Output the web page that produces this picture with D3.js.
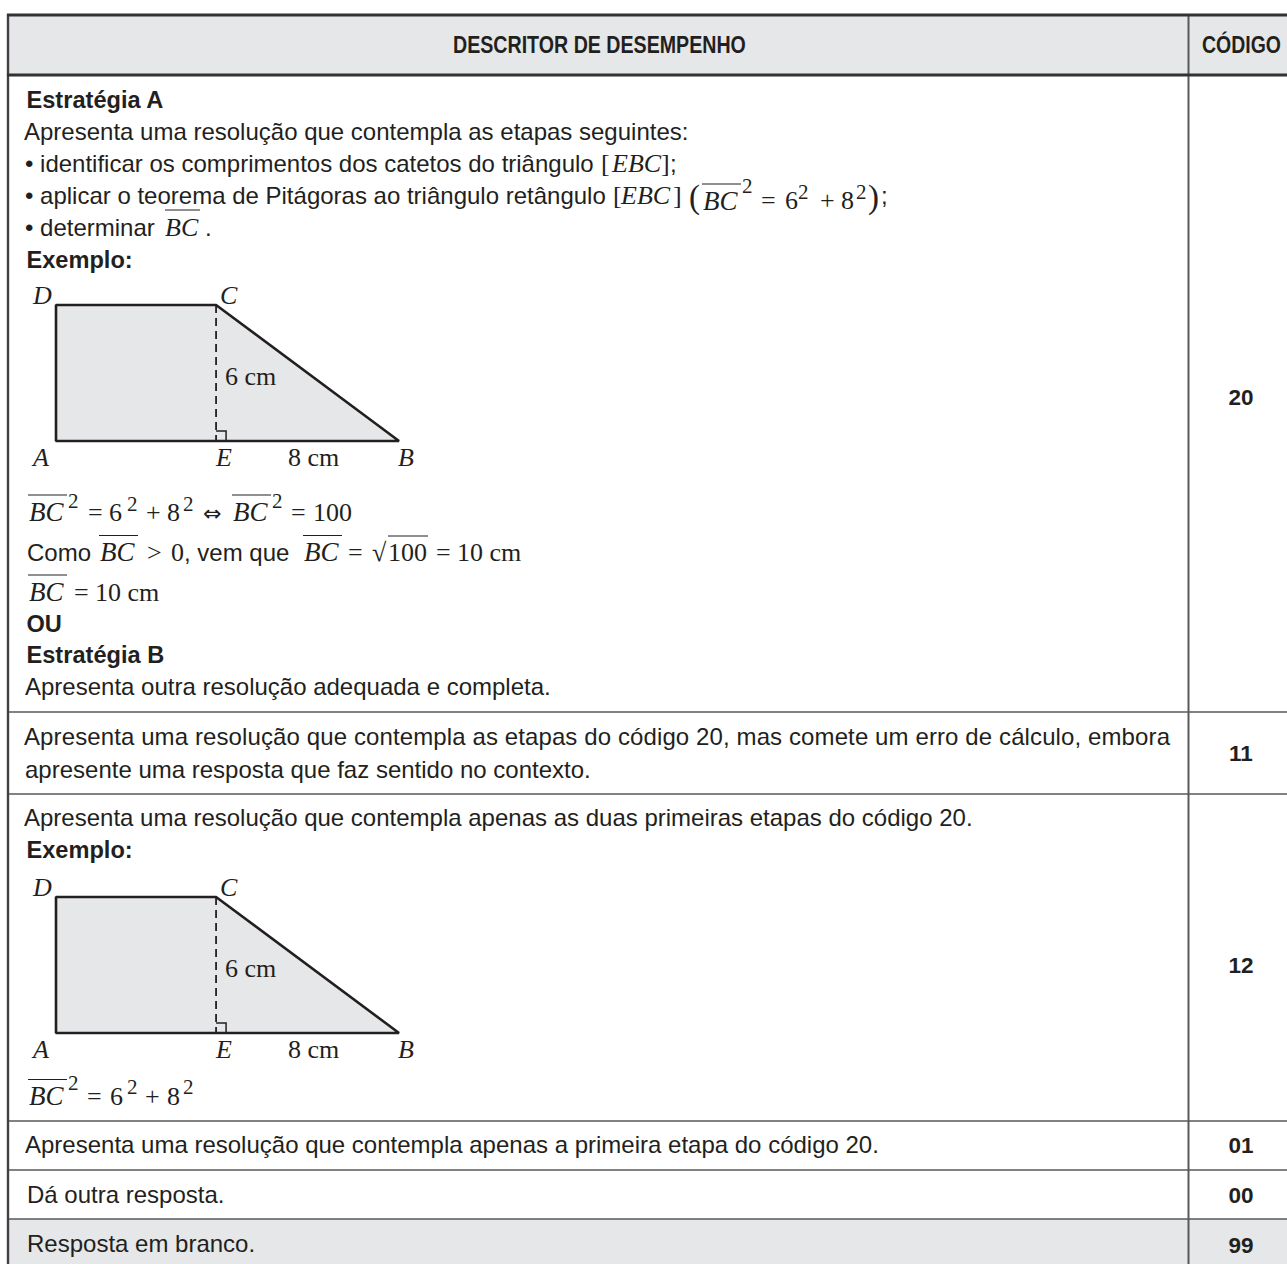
<!DOCTYPE html>
<html>
<head>
<meta charset="utf-8">
<title>Descritor de desempenho</title>
<script src="https://d3js.org/d3.v7.min.js"></script>
<style>
html, body { margin: 0; padding: 0; background: #fff; }
svg { display: block; }
text { fill: #231f20; white-space: pre; }
.sans { font-family: "Liberation Sans", Arial, sans-serif; font-size: 24px; }
.bold { font-family: "Liberation Sans", Arial, sans-serif; font-size: 23.6px; font-weight: 700; }
.code { font-family: "Liberation Sans", Arial, sans-serif; font-size: 22.5px; font-weight: 700; }
.head { font-family: "Liberation Sans", Arial, sans-serif; font-size: 23.5px; font-weight: 700; }
.serif { font-family: "Liberation Serif", "Times New Roman", serif; font-size: 26px; }
.ital { font-family: "Liberation Serif", "Times New Roman", serif; font-size: 26px; font-style: italic; }
.sup { font-family: "Liberation Serif", "Times New Roman", serif; font-size: 21px; }
.arrow { font-family: "DejaVu Sans", sans-serif; font-size: 22px; }
</style>
</head>
<body>
<svg id="chart" width="1287" height="1264"></svg>
<script>

var headers = ["DESCRITOR DE DESEMPENHO", "CÓDIGO"];
var codes = ["20", "11", "12", "01", "00", "99"];

// lados do trapézio, em cm
var sideAE = [7];
var sideEB = [8];
var sideCE = [6];

var rowText = {
  intro: "Apresenta uma resolução que contempla as etapas seguintes:",
  outra: "Apresenta outra resolução adequada e completa.",
  erro1: "Apresenta uma resolução que contempla as etapas do código 20, mas comete um erro de cálculo, embora",
  erro2: "apresente uma resposta que faz sentido no contexto.",
  duas: "Apresenta uma resolução que contempla apenas as duas primeiras etapas do código 20.",
  primeira: "Apresenta uma resolução que contempla apenas a primeira etapa do código 20.",
  outraResp: "Dá outra resposta.",
  branco: "Resposta em branco."
};

var svg = d3.select("#chart");
var ink = "#231f20", rule = "#58595b", shade = "#e6e7e8";

var left = 8, divider = 1188.5, right = 1287;
var rowTops = [15, 75, 712, 794, 1121, 1170, 1219, 1264];

// fundos
svg.append("rect").attr("x", left).attr("y", rowTops[0]).attr("width", right - left).attr("height", rowTops[1] - rowTops[0]).attr("fill", shade);
svg.append("rect").attr("x", left).attr("y", rowTops[6]).attr("width", right - left).attr("height", rowTops[7] - rowTops[6]).attr("fill", shade);

// linhas da tabela
rowTops.slice(2, 7).forEach(function(y) {
  svg.append("line").attr("x1", left).attr("x2", right).attr("y1", y).attr("y2", y)
    .attr("stroke", rule).attr("stroke-width", 1.6);
});
svg.append("line").attr("x1", divider).attr("x2", divider).attr("y1", rowTops[0]).attr("y2", rowTops[7])
  .attr("stroke", rule).attr("stroke-width", 2);
svg.append("line").attr("x1", left).attr("x2", left).attr("y1", 14).attr("y2", rowTops[7])
  .attr("stroke", "#414042").attr("stroke-width", 2.4);
[rowTops[0], rowTops[1]].forEach(function(y) {
  svg.append("line").attr("x1", left - 1).attr("x2", right).attr("y1", y).attr("y2", y)
    .attr("stroke", "#333132").attr("stroke-width", 3);
});

// cabeçalho, fonte condensada
function condensed(str, x, y, len) {
  var t = svg.append("text").attr("class", "head").text(str);
  var k = len / t.node().getComputedTextLength();
  t.attr("transform", "translate(" + x + "," + y + ") scale(" + k + ",1)");
}
condensed(headers[0], 453, 52.5, 293);
condensed(headers[1], 1202, 52.5, 79);

// códigos
var codeY = [405, 761, 973, 1153, 1203, 1253];
svg.selectAll(".code").data(codes).enter().append("text")
  .attr("class", "code")
  .attr("x", 1241)
  .attr("y", function(d, i) { return codeY[i]; })
  .attr("text-anchor", "middle")
  .text(function(d) { return d; });

function plain(cls, str, x, y) {
  return svg.append("text").attr("class", cls).attr("x", x).attr("y", y).text(str);
}

// parte = [classe, texto, x, subida]
function at(y, parts) {
  parts.forEach(function(p) {
    plain(p[0], p[1], p[2], y - (p[3] || 0));
  });
}

function over(x1, x2, y) {
  svg.append("line").attr("x1", x1).attr("x2", x2).attr("y1", y).attr("y2", y)
    .attr("stroke", ink).attr("stroke-width", 1);
}

// BC com barra por cima
function bc(x, y) {
  plain("ital", "BC", x + 1, y).style("font-size", "27px");
  over(x, x + 39, y - 25.5);
}

function trapezio(yBase, yTop) {
  var x = d3.scaleLinear().domain([0, sideAE[0] + sideEB[0]]).range([56, 399]);
  var y = d3.scaleLinear().domain([0, sideCE[0]]).range([yBase, yTop]);
  var g = svg.append("g");
  var pts = [[0, 0], [sideAE[0] + sideEB[0], 0], [sideAE[0], sideCE[0]], [0, sideCE[0]]];
  var line = d3.line().x(function(d) { return x(d[0]); }).y(function(d) { return y(d[1]); });
  g.append("path").attr("d", line(pts) + "Z").attr("fill", shade)
    .attr("stroke", ink).attr("stroke-width", 2.6).attr("stroke-linejoin", "bevel");
  g.append("line").attr("x1", x(sideAE[0])).attr("x2", x(sideAE[0])).attr("y1", y(sideCE[0])).attr("y2", yBase)
    .attr("stroke", ink).attr("stroke-width", 1.8).attr("stroke-dasharray", "8 5");
  g.append("path").attr("d", "M" + x(sideAE[0]) + "," + (yBase - 10) + "h10v10")
    .attr("fill", "none").attr("stroke", ink).attr("stroke-width", 1.5);
  plain("ital", "D", 33, yTop - 1);
  plain("ital", "C", 220, yTop - 1);
  plain("ital", "A", 33, yBase + 25);
  plain("ital", "E", 216, yBase + 25);
  plain("serif", sideEB[0] + " cm", 288, yBase + 25);
  plain("ital", "B", 398, yBase + 25);
  plain("serif", sideCE[0] + " cm", 225, yBase - 56);
}

// Estratégia A
plain("bold", "Estratégia A", 26.5, 108);
plain("sans", rowText.intro, 24, 139.5);
plain("sans", "• identificar os comprimentos dos catetos do triângulo", 25, 172);
at(172, [["serif", "[", 601], ["ital", "EBC", 612], ["serif", "]", 661], ["sans", ";", 670]]);
plain("sans", "• aplicar o teorema de Pitágoras ao triângulo retângulo", 25, 204);
at(204, [["serif", "[", 613], ["ital", "EBC", 621], ["serif", "]", 673]]);
plain("serif", "(", 689, 208).style("font-size", "33px");
bc(702, 209.5);
at(209, [["sup", "2", 742, 16], ["serif", "=", 761], ["serif", "6", 785], ["sup", "2", 798, 10], ["serif", "+", 820], ["serif", "8", 841], ["sup", "2", 856, 10]]);
plain("serif", ")", 868, 208).style("font-size", "33px");
plain("sans", ";", 881, 204);
plain("sans", "• determinar", 25, 236);
plain("ital", "BC", 165, 236);
over(165, 200, 210);
plain("sans", ".", 205, 236);
plain("bold", "Exemplo:", 26.5, 268);

trapezio(441, 305);

// equações
bc(28, 520.5);
at(520.5, [["sup", "2", 68, 13], ["serif", "=", 88], ["serif", "6", 109], ["sup", "2", 127, 10], ["serif", "+", 146], ["serif", "8", 167], ["sup", "2", 183, 10], ["arrow", "⇔", 203]]);
bc(232, 520.5);
at(520.5, [["sup", "2", 272, 13], ["serif", "=", 291], ["serif", "100", 313]]);

plain("sans", "Como", 27, 561);
bc(99, 561);
at(561, [["serif", ">", 147], ["serif", "0", 171], ["sans", ", vem que", 184]]);
bc(303, 561);
at(561, [["serif", "=", 348], ["serif", "√", 372], ["serif", "100", 388], ["serif", "=", 436], ["serif", "10 cm", 457]]);
over(388, 428, 536);

bc(28, 600.5);
at(600.5, [["serif", "=", 74], ["serif", "10 cm", 95]]);

plain("bold", "OU", 26.5, 632);
plain("bold", "Estratégia B", 26.5, 663);
plain("sans", rowText.outra, 25, 695);

// código 11, primeira linha justificada
plain("sans", rowText.erro1, 24, 745).attr("textLength", 1146);
plain("sans", rowText.erro2, 25, 778);

// código 12
plain("sans", rowText.duas, 24, 826);
plain("bold", "Exemplo:", 26.5, 858);
trapezio(1033, 897);
bc(28, 1105);
at(1105, [["sup", "2", 68, 15], ["serif", "=", 87], ["serif", "6", 110], ["sup", "2", 127, 11], ["serif", "+", 145], ["serif", "8", 167], ["sup", "2", 183, 11]]);

plain("sans", rowText.primeira, 25, 1153);
plain("sans", rowText.outraResp, 27, 1203);
plain("sans", rowText.branco, 27, 1252);

</script>
</body>
</html>
